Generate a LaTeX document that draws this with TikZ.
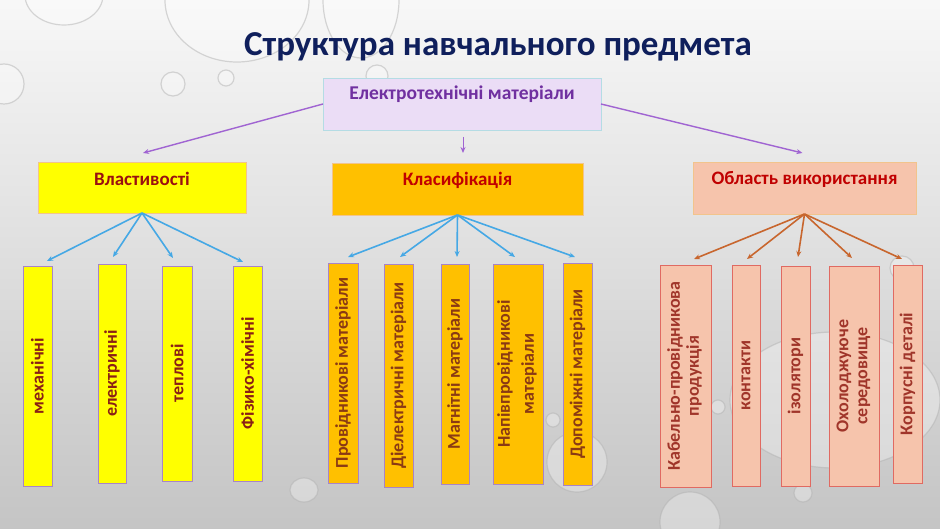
\documentclass[tikz,border=0pt]{standalone}
\usepackage{fontspec}
\usepackage{graphicx}
\setmainfont{Carlito}
\usetikzlibrary{arrows.meta,calc}
\definecolor{titleblue}{HTML}{0F1F5C}
\definecolor{topfill}{HTML}{EBDDF6}
\definecolor{topdraw}{HTML}{B4DCE4}
\definecolor{toptext}{HTML}{7030A0}
\definecolor{yel}{HTML}{FFFF00}
\definecolor{orng}{HTML}{FFC000}
\definecolor{salm}{HTML}{F6C4AC}
\definecolor{headborder}{HTML}{F2C48C}
\definecolor{purpleborder}{HTML}{A884C8}
\definecolor{redborder}{HTML}{E06A62}
\definecolor{darkred}{HTML}{9A1010}
\definecolor{red}{HTML}{C00000}
\definecolor{yeltext}{HTML}{8A2015}
\definecolor{orgtext}{HTML}{8A3A14}
\definecolor{saltext}{HTML}{A0352A}
\definecolor{purparrow}{HTML}{A064D2}
\definecolor{bluearrow}{HTML}{45A8E5}
\definecolor{orgarrow}{HTML}{C8662E}
\newcommand\leaf[7]{\node[#1, anchor=north west, minimum width={#5-#3}, minimum height={#6-#4}] (#2) at (#3,#4) {\rotatebox{90}{#7}};}
\newcommand\twol[3]{\begin{tabular}{@{}c@{}}#1\\[#3]#2\end{tabular}}
\begin{document}
\begin{tikzpicture}[x=1pt,y=-1pt,
  box/.style={inner sep=0pt, outer sep=0pt, line width=0.8pt, align=center},
  head/.style={box, font=\fontsize{19}{22}\selectfont\bfseries},
  leafbox/.style={box, font=\fontsize{18}{19}\selectfont\bfseries},
  yleaf/.style={leafbox, fill=yel, draw=purpleborder, text=yeltext},
  oleaf/.style={leafbox, fill=orng, draw=purpleborder, text=orgtext},
  sleaf/.style={leafbox, fill=salm, draw=redborder, text=saltext},
  parrow/.style={draw=purparrow, line width=1.4pt, -{Stealth[length=6pt,width=5pt]}},
  barrow/.style={draw=bluearrow, line width=1.6pt, -{Stealth[length=6pt,width=5pt]}},
  oarrow/.style={draw=orgarrow, line width=1.6pt, -{Stealth[length=6pt,width=5pt]}},
  drop/.style={draw=black!30, line width=1.2pt, fill=white, fill opacity=0.3, draw opacity=0.5}
]
\useasboundingbox (0,0) rectangle (940,529);
\shade[top color=white!97!black, middle color=black!9, bottom color=black!23] (0,0) rectangle (940,529);
% water drops
\path[drop] (64,-5) ellipse [x radius=39, y radius=30];
\path[drop] (237,0) ellipse [x radius=72, y radius=62];
\path[drop] (361,0) ellipse [x radius=38, y radius=58];
\path[drop] (4,84) circle [radius=20];
\path[drop] (173,84) circle [radius=12];
\path[drop] (226,78) circle [radius=8];
\path[drop] (377,76) circle [radius=11];
\path[drop] (304,490) ellipse [x radius=14, y radius=12];
\path[drop] (577,462) circle [radius=30];
\path[drop] (553,420) circle [radius=7];
\path[drop] (835,400) ellipse [x radius=105, y radius=68];
\path[drop] (718,407) circle [radius=7];
\path[drop] (803,493) circle [radius=9];
\path[drop] (690,522) circle [radius=30];
\path[drop] (902,268) circle [radius=12];
% title
\node[anchor=base, text=titleblue, font=\fontsize{35}{40}\selectfont\bfseries] (title) at (498,56) {Структура навчального предмета};
% top box
\node[box, anchor=north west, fill=topfill, draw=topdraw, text=toptext, font=\fontsize{19.5}{22}\selectfont\bfseries, minimum width=278, text height=21.3pt, text depth=30.7pt] (top) at (323,78) {Електротехнічні матеріали};
% heads
\node[head, anchor=north west, fill=yel, draw=headborder, text=darkred, minimum width=208, text height=24pt, text depth=27pt] (vl) at (38,162) {Властивості};
\node[head, anchor=north west, fill=orng, draw=headborder, text=red, minimum width=251, text height=23pt, text depth=29pt] (kl) at (332,163) {Класифікація};
\node[head, anchor=north west, fill=salm, draw=headborder, text=red, minimum width=223, text height=23pt, text depth=29pt] (ob) at (693,162) {Область використання};
% leaves
\leaf{yleaf}{m1}{23}{266}{52}{486}{механічні}
\leaf{yleaf}{m2}{98}{264}{126}{483}{електричні}
\leaf{yleaf}{m3}{162}{266}{192}{481}{теплові}
\leaf{yleaf}{m4}{233}{266}{262}{481}{Фізико-хімічні}
\leaf{oleaf}{c1}{328}{263}{358}{483}{Провідникові матеріали}
\leaf{oleaf}{c2}{384}{264}{413}{487}{Діелектричні матеріали}
\leaf{oleaf}{c3}{441}{264}{469}{484}{Магнітні матеріали}
\leaf{oleaf}{c4}{493}{264}{543}{484}{\twol{Напівпровідникові}{матеріали}{5pt}}
\leaf{oleaf}{c5}{563}{263}{592}{485}{Допоміжні матеріали}
\leaf{sleaf}{u1}{660}{265}{711}{487}{\twol{Кабельно-провідникова}{продукція}{0pt}}
\leaf{sleaf}{u2}{732}{265}{760}{486}{контакти}
\leaf{sleaf}{u3}{781}{266}{810}{486}{ізолятори}
\leaf{sleaf}{u4}{829}{266}{879}{486}{\twol{Охолоджуюче}{середовище}{0pt}}
\leaf{sleaf}{u5}{893}{265}{922}{483}{Корпусні деталі}
% top arrows
\draw[parrow] (top.west) -- ($(vl.north)+(1,-9)$);
\draw[parrow, line width=1pt] ($(top.south)+(1,7)$) -- ($(kl.north)+(5.5,-10)$);
\draw[parrow] (top.east) -- ($(ob.north)+(-2,-9)$);
% blue arrows
\draw[barrow] (vl.south) -- ($(m1.north)+(9.5,-5)$);
\draw[barrow] (vl.south) -- ($(m2.north)+(1,-7)$);
\draw[barrow] (vl.south) -- ($(m3.north)+(-4,-8)$);
\draw[barrow] (vl.south) -- ($(m4.north)+(-4.5,-4)$);
\draw[barrow] (kl.south) -- ($(c1.north)+(5,-6)$);
\draw[barrow] (kl.south) -- ($(c2.north)+(1.5,-7)$);
\draw[barrow] (kl.south) -- ($(c3.north)+(2,-7)$);
\draw[barrow] (kl.south) -- ($(c4.north)+(-3,-7)$);
\draw[barrow] (kl.south) -- ($(c5.north)+(-2.5,-6)$);
% orange arrows
\draw[oarrow] (ob.south) -- ($(u1.north)+(8.5,-6)$);
\draw[oarrow] (ob.south) -- ($(u2.north)+(1,-6)$);
\draw[oarrow] (ob.south) -- ($(u3.north)+(2.5,-9)$);
\draw[oarrow] (ob.south) -- ($(u4.north)+(-2,-8)$);
\draw[oarrow] (ob.south) -- ($(u5.north)+(-5.5,-6)$);
\end{tikzpicture}
\end{document}
